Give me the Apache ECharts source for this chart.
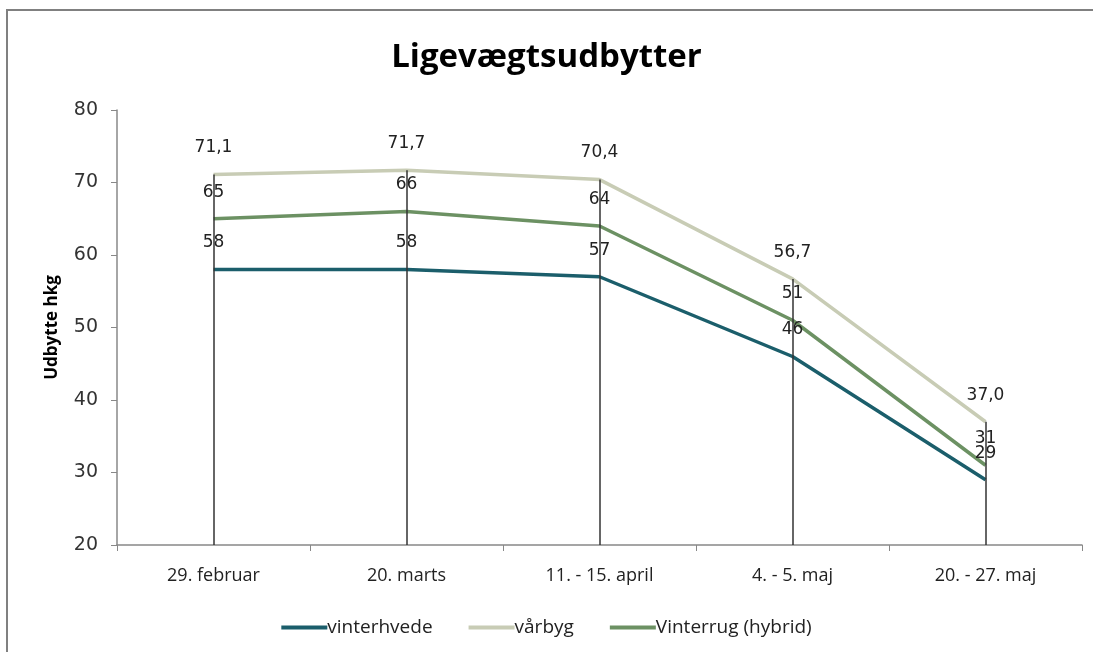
<!DOCTYPE html>
<html>
<head>
<meta charset="utf-8">
<script src="https://cdn.jsdelivr.net/npm/echarts@6/dist/echarts.min.js"></script>
<style>
  html, body { margin: 0; padding: 0; background: #fff; }
  #main { width: 1093px; height: 652px; }
</style>
</head>
<body>
<div id="main"></div>
<script>
const categories = ['29. februar', '20. marts', '11. - 15. april', '4. - 5. maj', '20. - 27. maj'];
const vinterhvede = [58, 58, 57, 46, 29];
const varbyg = [71.1, 71.7, 70.4, 56.7, 37.0];
const vinterrug = [65, 66, 64, 51, 31];
const yMin = 20;
const yMax = 80;

const labelFont = 'DejaVu Sans';
const textFont = 'Open Sans';

// drop lines from the top point of each category down to the x axis
const dropLines = varbyg.map((v, i) => [
  { coord: [i, v] },
  { coord: [i, yMin] }
]);

function lineSeries(name, data, color, fmt) {
  return {
    name: name,
    type: 'line',
    data: data,
    symbol: 'circle',
    symbolSize: 0.1,
    showSymbol: true,
    lineStyle: { color: color, width: 3.5 },
    itemStyle: { color: color },
    label: {
      show: true,
      position: 'top',
      distance: 18,
      color: '#222',
      fontFamily: labelFont,
      fontSize: 17,
      formatter: fmt
    },
    labelLayout: { hideOverlap: false },
    animation: false
  };
}

const chart = echarts.init(document.getElementById('main'));
chart.setOption({
  animation: false,
  backgroundColor: '#fff',
  title: {
    text: 'Ligevægtsudbytter',
    left: 'center',
    top: 36,
    textStyle: {
      fontFamily: textFont,
      fontWeight: 'bold',
      fontSize: 33,
      color: '#000'
    }
  },
  graphic: [{
    type: 'rect',
    shape: { x: 7, y: 10, width: 1200, height: 800 },
    style: { fill: 'none', stroke: '#808080', lineWidth: 2 },
    silent: true
  }],
  grid: { left: 117, right: 11, top: 110, bottom: 107 },
  legend: {
    bottom: 10,
    left: 'center',
    icon: 'rect',
    itemWidth: 46,
    itemHeight: 4,
    itemGap: 36,
    textStyle: {
      fontFamily: textFont,
      fontSize: 19,
      color: '#222',
      padding: [0, 0, 0, -5]
    },
    data: ['vinterhvede', 'vårbyg', 'Vinterrug (hybrid)']
  },
  xAxis: {
    type: 'category',
    data: categories,
    boundaryGap: true,
    axisLine: { lineStyle: { color: '#888', width: 1.5 } },
    axisTick: { show: true, length: 6, lineStyle: { color: '#888' } },
    axisLabel: {
      fontFamily: textFont,
      fontSize: 18,
      color: '#222',
      margin: 22
    }
  },
  yAxis: {
    type: 'value',
    min: yMin,
    max: yMax,
    interval: 10,
    name: 'Udbytte hkg',
    nameLocation: 'middle',
    nameGap: 56,
    nameRotate: 90,
    nameTextStyle: {
      fontFamily: textFont,
      fontWeight: 'bold',
      fontSize: 17,
      color: '#000'
    },
    splitLine: { show: false },
    axisLine: { show: true, lineStyle: { color: '#888', width: 1.5 } },
    axisTick: { show: true, length: 6, lineStyle: { color: '#888' } },
    axisLabel: {
      fontFamily: labelFont,
      fontSize: 19,
      color: '#333',
      margin: 19
    }
  },
  series: [
    lineSeries('vinterhvede', vinterhvede, '#1B5E6B', p => p.value),
    Object.assign(lineSeries('vårbyg', varbyg, '#C8CCB5', p => p.value.toFixed(1).replace('.', ',')), {
      markLine: {
        silent: true,
        symbol: 'none',
        z: 10,
        label: { show: false },
        lineStyle: { color: '#333', width: 1.5, type: 'solid' },
        data: dropLines
      }
    }),
    lineSeries('Vinterrug (hybrid)', vinterrug, '#6C9163', p => p.value)
  ]
});
</script>
</body>
</html>
